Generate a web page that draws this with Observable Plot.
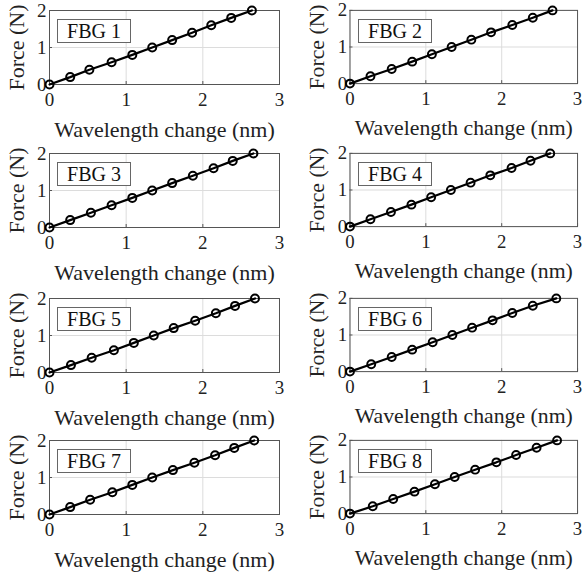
<!DOCTYPE html>
<html>
<head>
<meta charset="utf-8">
<script src="https://cdn.jsdelivr.net/npm/d3@7"></script>
<script src="https://cdn.jsdelivr.net/npm/@observablehq/plot@0.6"></script>
<style>
  html, body { margin: 0; padding: 0; background: #fff; }
  #wrap { position: relative; width: 583px; height: 576px; overflow: hidden; background: #fff; font-family: "Liberation Serif", "Times New Roman", serif; }
  .panel { position: absolute; }
  .panel svg, .panel svg text { font-family: "Liberation Serif", "Times New Roman", serif !important; }
  .tag { position: absolute; border: 1px solid #666; background: #fff; font-size: 20px; text-align: center; line-height: 22px; color: #111; box-sizing: border-box; font-family: "Liberation Serif", "Times New Roman", serif; }
</style>
</head>
<body>
<div id="wrap"></div>
<script>
// ---- data ----
const panelNames = ["FBG 1", "FBG 2", "FBG 3", "FBG 4", "FBG 5", "FBG 6", "FBG 7", "FBG 8"];
const force = [0, 0.2, 0.4, 0.6, 0.8, 1.0, 1.2, 1.4, 1.6, 1.8, 2.0];
const fbg1 = [0, 0.27, 0.52, 0.81, 1.08, 1.34, 1.60, 1.86, 2.11, 2.37, 2.64];
const fbg2 = [0, 0.27, 0.55, 0.82, 1.08, 1.34, 1.60, 1.86, 2.14, 2.41, 2.67];
const fbg3 = [0, 0.27, 0.54, 0.81, 1.08, 1.34, 1.60, 1.87, 2.14, 2.39, 2.66];
const fbg4 = [0, 0.27, 0.54, 0.81, 1.07, 1.33, 1.59, 1.85, 2.13, 2.38, 2.64];
const fbg5 = [0, 0.28, 0.55, 0.84, 1.10, 1.36, 1.62, 1.90, 2.17, 2.42, 2.68];
const fbg6 = [0, 0.28, 0.55, 0.82, 1.09, 1.35, 1.61, 1.88, 2.14, 2.41, 2.72];
const fbg7 = [0, 0.27, 0.53, 0.82, 1.08, 1.34, 1.61, 1.89, 2.16, 2.41, 2.67];
const fbg8 = [0, 0.30, 0.57, 0.85, 1.12, 1.38, 1.65, 1.93, 2.19, 2.46, 2.73];
const xTicks = [0, 1, 2, 3];
const yTicks = [0, 1, 2];
const xLabel = "Wavelength change (nm)";
const yLabel = "Force (N)";

const series = [fbg1, fbg2, fbg3, fbg4, fbg5, fbg6, fbg7, fbg8];

// ---- layout ----
const W = 285, H = 143;
const mL = 49, mR = 6, mT = 10, mB = 59;
const frameH = H - mT - mB;
const frameW = W - mL - mR;
const colLeft = [0, 301];
const rowTop = [0, 143, 288, 430];
const FONT = '"Liberation Serif", "Times New Roman", serif';

const wrap = document.getElementById("wrap");

series.forEach((wl, i) => {
  const data = wl.map((w, j) => ({w, f: force[j]}));
  const col = i % 2, row = Math.floor(i / 2);
  const chart = Plot.plot({
    width: W, height: H,
    marginLeft: mL, marginRight: mR, marginTop: mT, marginBottom: mB,
    x: {domain: [0, 3]},
    y: {domain: [0, 2]},
    style: {fontFamily: FONT, background: "transparent", overflow: "visible", color: "#222"},
    marks: [
      Plot.gridX(xTicks, {stroke: "#dcdcdc", strokeOpacity: 1}),
      Plot.gridY(yTicks, {stroke: "#dcdcdc", strokeOpacity: 1}),
      Plot.tickX(xTicks, {x: d => d, stroke: "#555", insetTop: frameH - 3}),
      Plot.tickY(yTicks, {y: d => d, stroke: "#555", insetRight: frameW - 3}),
      Plot.frame({stroke: "#555"}),
      Plot.axisX(xTicks, {tickSize: 0, tickPadding: 8, fontSize: 19, label: null}),
      Plot.axisY(yTicks, {tickSize: 0, tickPadding: 3, fontSize: 19, label: null}),
      Plot.text([xLabel], {frameAnchor: "bottom", lineAnchor: "middle", textAnchor: "middle", dy: 45, text: d => d, fontSize: 22, fill: "#222"}),
      Plot.text([yLabel], {frameAnchor: "left", textAnchor: "middle", lineAnchor: "middle", rotate: -90, dx: -33, text: d => d, fontSize: 22, fill: "#222"}),
      Plot.line(data, {x: "w", y: "f", stroke: "#000", strokeWidth: 2.2}),
      Plot.dot(data, {x: "w", y: "f", r: 4, stroke: "#000", strokeWidth: 2, fill: "none"})
    ]
  });
  const holder = document.createElement("div");
  holder.className = "panel";
  holder.style.left = colLeft[col] + "px";
  holder.style.top = rowTop[row] + "px";
  holder.appendChild(chart);
  const tag = document.createElement("div");
  tag.className = "tag";
  tag.textContent = panelNames[i];
  tag.style.left = (mL + 8) + "px";
  tag.style.top = (mT + 9) + "px";
  tag.style.width = "74px";
  tag.style.height = "24px";
  holder.appendChild(tag);
  wrap.appendChild(holder);
});
</script>
</body>
</html>
